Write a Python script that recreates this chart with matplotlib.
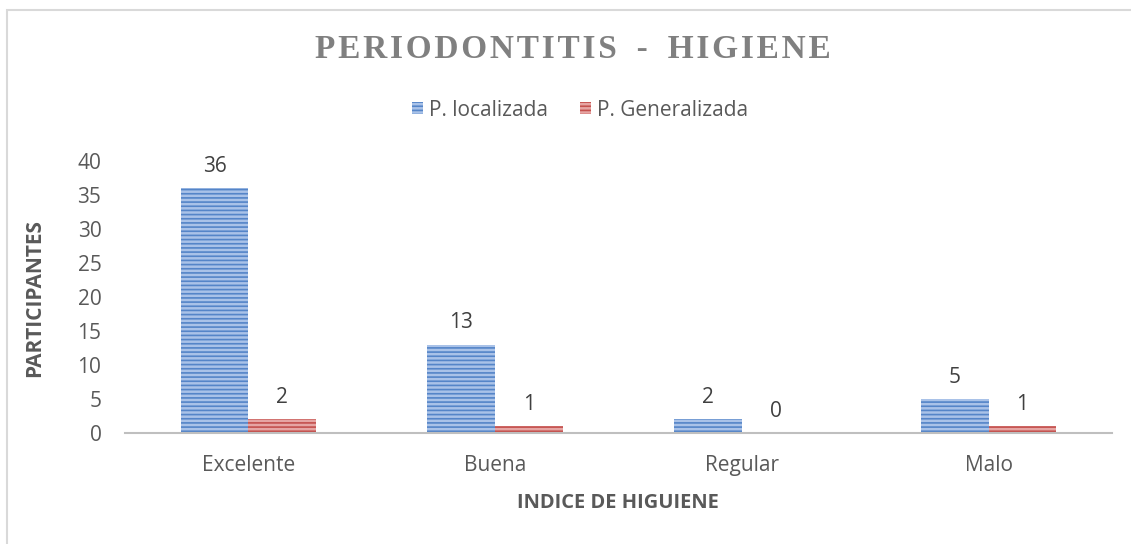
import matplotlib
matplotlib.use("Agg")
import matplotlib.pyplot as plt
import numpy as np
from matplotlib.patches import Rectangle, Patch

categories = ["Excelente", "Buena", "Regular", "Malo"]
localizada = [36, 13, 2, 5]
generalizada = [2, 1, 0, 1]
series_names = ["P. localizada", "P. Generalizada"]
yticks = [0, 5, 10, 15, 20, 25, 30, 35, 40]

plt.rcParams['font.family'] = ['Open Sans', 'DejaVu Sans']
plt.rcParams['hatch.linewidth'] = 1.2

FS = 15
W, H = 1131, 544
fig = plt.figure(figsize=(W / 100, H / 100), dpi=100)
fig.patch.set_facecolor('white')

# chart frame (left/top visible)
fig.add_artist(Rectangle((7 / W, -0.1), 1.2, 1 - 10 / H + 0.1, transform=fig.transFigure,
                         fill=False, edgecolor='#d9d9d9', linewidth=1.5))

ax = fig.add_axes([125 / W, 1 - 433 / H, (1112 - 125) / W, (433 - 161) / H])
x = np.arange(len(categories))
bw = 0.275
blue_face, blue_hatch = '#a9c2e8', '#5585c8'
red_face, red_hatch = '#e6a5a3', '#c4514e'
b1 = ax.bar(x - bw / 2, localizada, bw, facecolor=blue_face, edgecolor=blue_hatch,
            hatch='----', linewidth=0)
b2 = ax.bar(x + bw / 2, generalizada, bw, facecolor=red_face, edgecolor=red_hatch,
            hatch='----', linewidth=0)

for bars, vals in ((b1, localizada), (b2, generalizada)):
    for r, v in zip(bars, vals):
        ax.annotate(str(v), (r.get_x() + r.get_width() / 2, v), xytext=(0, 8),
                    textcoords='offset points', ha='center', va='bottom',
                    fontsize=FS, color='#404040')

ax.set_xlim(-0.5, 3.5)
ax.set_ylim(0, 40)
ax.set_yticks(yticks)
ax.set_xticks(x)
ax.set_xticklabels(categories)
ax.tick_params(axis='both', length=0, labelsize=FS, colors='#595959')
ax.tick_params(axis='y', pad=17)
ax.tick_params(axis='x', pad=16)
for s in ['top', 'right', 'left']:
    ax.spines[s].set_visible(False)
ax.spines['bottom'].set_color('#bfbfbf')
ax.spines['bottom'].set_linewidth(1.5)

fig.text(35 / W, 1 - 298 / H, "PARTICIPANTES", rotation=90, ha='center', va='center',
         fontsize=15, fontweight='bold', color='#595959')
fig.text(618 / W, 1 - 503 / H, "INDICE DE HIGUIENE", ha='center', va='center',
         fontsize=14.5, fontweight='bold', color='#595959')

title = "PERIODONTITIS - HIGIENE"
title = "\u200a".join(title).replace("\u200a \u200a", "\u2009\u2009\u2009")
fig.text(573 / W, 1 - 50 / H, title,
         ha='center', va='center', fontsize=24, fontweight='bold', color='#808080',
         family=['Liberation Serif', 'DejaVu Serif'])

handles = [Patch(facecolor=blue_face, edgecolor=blue_hatch, hatch='----', linewidth=0),
           Patch(facecolor=red_face, edgecolor=red_hatch, hatch='----', linewidth=0)]
leg = fig.legend(handles, series_names, loc='center', bbox_to_anchor=(580 / W, 1 - 110 / H),
                 ncol=2, frameon=False, fontsize=FS, handlelength=0.55, handleheight=0.55,
                 handletextpad=0.3, columnspacing=1.5)
for t in leg.get_texts():
    t.set_color('#595959')

fig.savefig("out.png", dpi=100)
